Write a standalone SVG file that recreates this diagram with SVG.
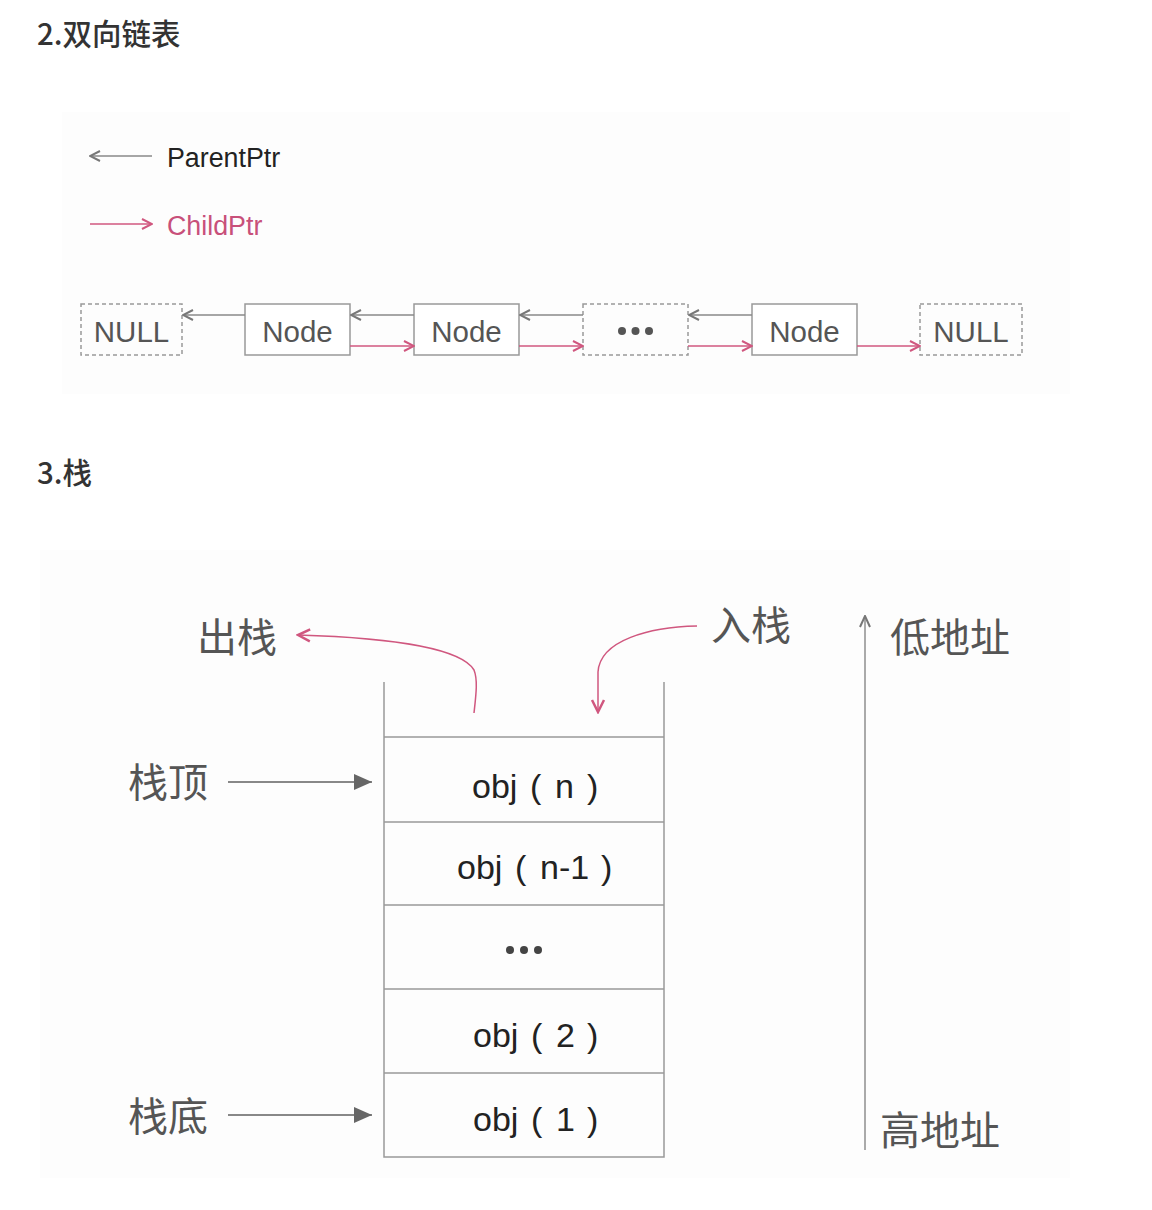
<svg xmlns="http://www.w3.org/2000/svg" width="1152" height="1210" viewBox="0 0 1152 1210">
<style>
.h{font-family:"Noto Sans CJK SC","Liberation Sans",sans-serif;font-size:29.5px;font-weight:500;fill:#333}
.t{font-family:"Liberation Sans","Noto Sans CJK SC",sans-serif;font-size:29.5px;fill:#555;text-anchor:middle}
.cj{font-family:"Noto Sans CJK SC","Liberation Sans",sans-serif;font-size:40px;fill:#555}
.o{font-family:"Liberation Sans","Noto Sans CJK SC",sans-serif;font-size:34px;fill:#222}
.box{fill:#fff;stroke:#999;stroke-width:1.5}
.dbox{fill:none;stroke:#999;stroke-width:1.5;stroke-dasharray:4 3}
.par{fill:none;stroke:#888;stroke-width:1.5;marker-end:url(#chg)}
.chi{fill:none;stroke:#d0577f;stroke-width:1.5;marker-end:url(#chp)}
.sl{stroke:#999;stroke-width:1.5;fill:none}
</style>
<defs>
<marker id="chg" viewBox="0 0 12 12" refX="11" refY="6" markerWidth="12" markerHeight="12" markerUnits="userSpaceOnUse" orient="auto"><path d="M1,1 L11,6 L1,11" fill="none" stroke="#777" stroke-width="2"/></marker>
<marker id="chp" viewBox="0 0 12 12" refX="11" refY="6" markerWidth="12" markerHeight="12" markerUnits="userSpaceOnUse" orient="auto"><path d="M1,1 L11,6 L1,11" fill="none" stroke="#d0577f" stroke-width="2"/></marker>
<marker id="chp2" viewBox="0 0 16 16" refX="14" refY="8" markerWidth="16" markerHeight="16" markerUnits="userSpaceOnUse" orient="auto"><path d="M2,2 L14,8 L2,14" fill="none" stroke="#d0577f" stroke-width="2.5"/></marker>
<marker id="chg2" viewBox="0 0 14 14" refX="13" refY="7" markerWidth="14" markerHeight="14" markerUnits="userSpaceOnUse" orient="auto"><path d="M2,2 L13,7 L2,12" fill="none" stroke="#777" stroke-width="2"/></marker>
<marker id="tri" viewBox="0 0 20 20" refX="19" refY="10" markerWidth="20" markerHeight="20" markerUnits="userSpaceOnUse" orient="auto"><path d="M1,2 L19,10 L1,18 Z" fill="#666"/></marker>
</defs>
<rect width="1152" height="1210" fill="#fff"/>
<rect x="62" y="112" width="1008" height="282" fill="#fdfdfd"/>
<rect x="40" y="550" width="1030" height="628" fill="#fdfdfd"/>

<text class="h" x="37" y="45">2.双向链表</text>
<text class="h" x="37" y="484">3.栈</text>

<g id="legend">
<line class="par" x1="152" y1="156" x2="90" y2="156"/>
<text x="167" y="167" font-family="Liberation Sans, sans-serif" font-size="26.8" fill="#222">ParentPtr</text>
<line class="chi" x1="90" y1="224" x2="152" y2="224"/>
<text x="167" y="235" font-family="Liberation Sans, sans-serif" font-size="26.8" fill="#c8507a">ChildPtr</text>
</g>

<g id="null1"><rect class="dbox" x="81" y="304" width="101" height="51"/><text class="t" x="131.5" y="342">NULL</text></g>
<g id="node1"><rect class="box" x="245" y="304" width="105" height="51"/><text class="t" x="297.5" y="342">Node</text></g>
<g id="node2"><rect class="box" x="414" y="304" width="105" height="51"/><text class="t" x="466.5" y="342">Node</text></g>
<g id="dots"><rect class="dbox" x="583" y="304" width="105" height="51"/><circle cx="622" cy="331" r="4" fill="#555"/><circle cx="635.5" cy="331" r="4" fill="#555"/><circle cx="649" cy="331" r="4" fill="#555"/></g>
<g id="node3"><rect class="box" x="752" y="304" width="105" height="51"/><text class="t" x="804.5" y="342">Node</text></g>
<g id="null2"><rect class="dbox" x="920" y="304" width="102" height="51"/><text class="t" x="971" y="342">NULL</text></g>

<g id="list-connectors">
<line class="par" x1="245" y1="315" x2="183" y2="315"/>
<line class="par" x1="414" y1="315" x2="351" y2="315"/>
<line class="par" x1="583" y1="315" x2="520" y2="315"/>
<line class="par" x1="752" y1="315" x2="689" y2="315"/>
<line class="chi" x1="350" y1="346" x2="414" y2="346"/>
<line class="chi" x1="519" y1="346" x2="583" y2="346"/>
<line class="chi" x1="688" y1="346" x2="752" y2="346"/>
<line class="chi" x1="857" y1="346" x2="920" y2="346"/>
</g>

<g id="stack">
<path class="sl" d="M384,682 V1157 H664 V682"/>
<line class="sl" x1="384" y1="737" x2="664" y2="737"/>
<line class="sl" x1="384" y1="822" x2="664" y2="822"/>
<line class="sl" x1="384" y1="905" x2="664" y2="905"/>
<line class="sl" x1="384" y1="989" x2="664" y2="989"/>
<line class="sl" x1="384" y1="1073" x2="664" y2="1073"/>
<text class="o" y="798"><tspan x="472">obj</tspan><tspan x="530">(</tspan><tspan x="555">n</tspan><tspan x="587">)</tspan></text>
<text class="o" y="879"><tspan x="457">obj</tspan><tspan x="515">(</tspan><tspan x="540">n-1</tspan><tspan x="601">)</tspan></text>
<circle cx="510" cy="950" r="4" fill="#444"/><circle cx="524" cy="950" r="4" fill="#444"/><circle cx="538" cy="950" r="4" fill="#444"/>
<text class="o" y="1047"><tspan x="473">obj</tspan><tspan x="531">(</tspan><tspan x="556">2</tspan><tspan x="587">)</tspan></text>
<text class="o" y="1131"><tspan x="473">obj</tspan><tspan x="531">(</tspan><tspan x="556">1</tspan><tspan x="587">)</tspan></text>
</g>

<g id="labels">
<text class="cj" x="197" y="652">出栈</text>
<text class="cj" x="711" y="640">入栈</text>
<text class="cj" x="890" y="652">低地址</text>
<text class="cj" x="128" y="797">栈顶</text>
<text class="cj" x="128" y="1131">栈底</text>
<text class="cj" x="880" y="1145">高地址</text>
</g>

<g id="stack-connectors">
<line x1="228" y1="782" x2="372" y2="782" stroke="#888" stroke-width="2" marker-end="url(#tri)"/>
<line x1="228" y1="1115" x2="372" y2="1115" stroke="#888" stroke-width="2" marker-end="url(#tri)"/>
<line x1="865" y1="1150" x2="865" y2="616" stroke="#aaa" stroke-width="2" marker-end="url(#chg2)"/>
<path d="M474,713 C476,695 478,680 474,670 C462,650 400,638 298,635" fill="none" stroke="#d0577f" stroke-width="1.5" marker-end="url(#chp2)"/>
<path d="M697,626 C650,627 600,640 598,672 L598,712" fill="none" stroke="#d0577f" stroke-width="1.5" marker-end="url(#chp2)"/>
</g>
</svg>
